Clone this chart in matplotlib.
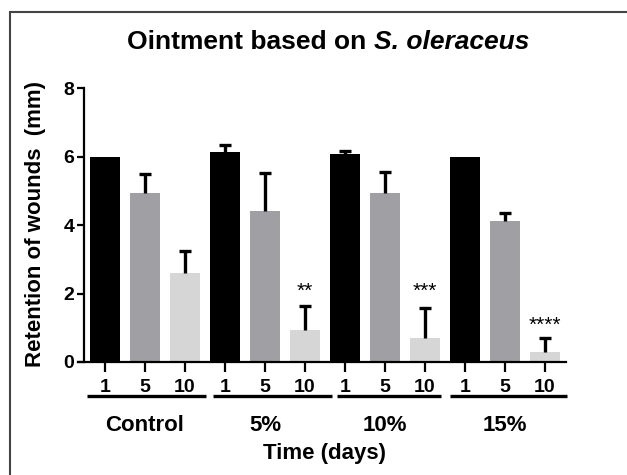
import numpy as np
import matplotlib
matplotlib.use("Agg")
import matplotlib.pyplot as plt
from matplotlib.patches import Rectangle

plt.rcParams['font.family'] = ['Liberation Sans', 'DejaVu Sans']
plt.rcParams['font.weight'] = 'bold'

groups = ["Control", "5%", "10%", "15%"]
days = ["1", "5", "10"]
yticks = [0, 2, 4, 6, 8]
means = [6.0, 4.94, 2.61, 6.12, 4.42, 0.93, 6.06, 4.94, 0.69, 6.0, 4.12, 0.30]
errs = [0.0, 0.55, 0.63, 0.22, 1.09, 0.71, 0.10, 0.62, 0.88, 0.0, 0.22, 0.40]
stars = {5: "**", 8: "***", 11: "****"}
star_y = {5: 1.78, 8: 1.78, 11: 0.78}
colors = ["#000000", "#a0a0a4", "#d6d6d6"] * 4

# spans of the group underlines (x in bar units)
spans = [(-0.45, 2.52), (2.7, 5.67), (5.8, 8.4), (8.62, 11.55)]

fig = plt.figure(figsize=(6.27, 4.75), dpi=100)
ax = fig.add_axes([0.1244, 0.2379, 0.7783, 0.5768])

x = np.arange(len(means))
ax.bar(x, means, width=0.75, color=colors, zorder=2)
tops = np.array(means) + np.array(errs)
has = np.array(errs) > 0
ax.vlines(x[has], np.array(means)[has], tops[has], color="black", lw=2.4, zorder=3)
ax.hlines(tops[has], x[has] - 0.16, x[has] + 0.16, color="black", lw=2.4, zorder=3)
for i, s in stars.items():
    ax.text(x[i], star_y[i], s, ha="center", va="bottom", fontsize=15,
            fontweight="normal")

ax.set_xlim(-0.675, 11.525)
ax.set_ylim(0, 8)
ax.tick_params(axis="y", width=1.6, length=5, pad=2, labelsize=14)
ax.tick_params(axis="x", width=1.6, length=7, pad=5, labelsize=14)
ax.set_yticks(yticks)
ax.set_xticks(x, labels=days * 4)

ax.spines["top"].set_visible(False)
ax.spines["right"].set_visible(False)
ax.spines["left"].set_position(("data", -0.525))
ax.spines["left"].set_linewidth(1.6)
ax.spines["bottom"].set_linewidth(1.6)

# group underlines and names
for g, name in enumerate(groups):
    ax.plot(spans[g], [-1.0, -1.0], color="black", lw=2.4, clip_on=False,
            solid_capstyle="butt")
    ax.text(3 * g + 1, -1.85, name, ha="center", va="center", fontsize=16)

# title: bold, with the species name in bold italic
t1 = fig.text(127 / 627, 1 - 42 / 475, "Ointment based on ", fontsize=19,
              va="center", ha="left")
ax.annotate("S. oleraceus", xy=(1, 0), xycoords=t1, va="bottom", ha="left",
            fontsize=19, fontstyle="italic")

ax.set_ylabel("Retention of wounds  (mm)", fontsize=16, fontweight="bold")
ax.yaxis.set_label_coords(-0.066, 0.505)
ax.text(5.5, -2.68, "Time (days)", ha="center", va="center", fontsize=16)

# outer frame (cut off at right and bottom)
fig.patches.append(Rectangle((10 / 627, -0.1), 1.2, (475 - 12) / 475 + 0.1,
                             transform=fig.transFigure, fill=False,
                             edgecolor="#444444", lw=1.5))

fig.savefig("out.png", dpi=100)
